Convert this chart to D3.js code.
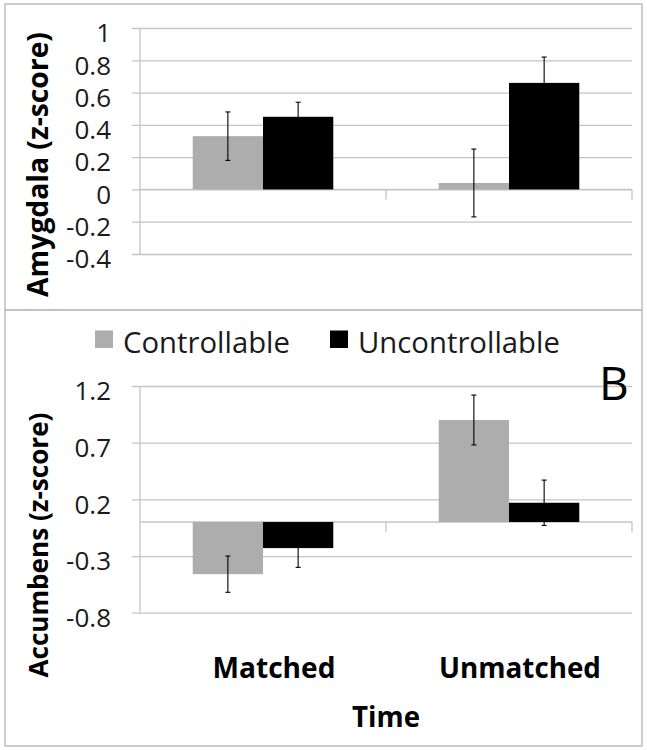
<!DOCTYPE html>
<html>
<head>
<meta charset="utf-8">
<script src="https://cdn.jsdelivr.net/npm/d3@7"></script>
<style>
  html, body { margin: 0; padding: 0; background: #fff; }
  svg { display: block; font-family: "Open Sans", "Liberation Sans", sans-serif; }
</style>
</head>
<body>
<svg id="chart" width="647" height="750"></svg>
<script>
// ---- data ----
const categories = ["Matched", "Unmatched"];
const seriesNames = ["Controllable", "Uncontrollable"];
const seriesColors = ["#adadad", "#000000"];

const amygdalaControllable = [0.33, 0.04];
const amygdalaUncontrollable = [0.45, 0.66];
const amygdalaControllableErr = [0.15, 0.21];
const amygdalaUncontrollableErr = [0.09, 0.16];

const accumbensControllable = [-0.46, 0.90];
const accumbensUncontrollable = [-0.23, 0.17];
const accumbensControllableErr = [0.16, 0.22];
const accumbensUncontrollableErr = [0.17, 0.20];

const amygdalaTicks = [-0.4, -0.2, 0, 0.2, 0.4, 0.6, 0.8, 1];
const accumbensTicks = [-0.8, -0.3, 0.2, 0.7, 1.2];

const yTitles = ["Amygdala (z-score)", "Accumbens (z-score)"];
const xTitle = "Time";
const panelLabel = "B";

// ---- layout ----
const svg = d3.select("#chart");
const left = 140, right = 632, tickLen = 8;
const gridColor = "#c4c4c4";
const textColor = "#1a1a1a";

function fit(sel, target) {
  const base = parseFloat(sel.attr("font-size"));
  const w = sel.node().getComputedTextLength();
  sel.attr("font-size", base * target / w);
  return sel;
}

// panel frames
svg.append("rect").attr("x", 5).attr("y", 4).attr("width", 637).attr("height", 306)
  .attr("fill", "none").attr("stroke", "#bdbdbd").attr("stroke-width", 1.5);
svg.append("rect").attr("x", 5).attr("y", 310).attr("width", 637).attr("height", 436)
  .attr("fill", "none").attr("stroke", "#bdbdbd").attr("stroke-width", 1.5);

const x = d3.scaleBand().domain(categories).range([left, right]);
const xs = d3.scaleBand().domain(seriesNames).range([0, x.bandwidth()]).paddingOuter(0.75);
const color = d3.scaleOrdinal().domain(seriesNames).range(seriesColors);

function panel(cfg) {
  const g = svg.append("g");
  const y = d3.scaleLinear().domain(cfg.domain).range(cfg.range);

  // gridlines
  g.append("g").attr("transform", `translate(${right},0)`)
    .call(d3.axisLeft(y).tickValues(cfg.ticks).tickSize(right - left + tickLen).tickFormat(""))
    .call(a => a.select(".domain").remove())
    .call(a => a.selectAll("line").attr("stroke", gridColor).attr("stroke-width", 1.3));

  // tick labels
  g.append("g").attr("transform", `translate(${left - tickLen},0)`)
    .call(d3.axisLeft(y).tickValues(cfg.ticks).tickSize(0).tickPadding(21)
      .tickFormat(d => String(+d.toFixed(1))))
    .call(a => a.select(".domain").remove())
    .call(a => a.attr("font-size", null).attr("font-family", null))
    .call(a => a.selectAll("text").attr("font-size", 26).attr("fill", textColor)
      .attr("font-family", "'Open Sans', sans-serif").attr("dy", "0.53em"));

  // vertical axis line
  g.append("line").attr("x1", left).attr("x2", left)
    .attr("y1", y(cfg.domain[0])).attr("y2", y(cfg.domain[1]))
    .attr("stroke", gridColor).attr("stroke-width", 1.3);

  // zero (category) axis line + ticks
  g.append("line").attr("x1", left).attr("x2", right).attr("y1", y(0)).attr("y2", y(0))
    .attr("stroke", gridColor).attr("stroke-width", 1.3);
  g.selectAll(".ctick").data(categories).join("line")
    .attr("x1", d => x(d) + x.bandwidth()).attr("x2", d => x(d) + x.bandwidth())
    .attr("y1", y(0)).attr("y2", y(0) + 10)
    .attr("stroke", gridColor).attr("stroke-width", 1.3);

  // bars
  const rows = [];
  categories.forEach((c, i) => {
    seriesNames.forEach((s, j) => {
      rows.push({ c, s, v: cfg.values[j][i], e: cfg.errors[j][i] });
    });
  });
  g.selectAll(".bar").data(rows).join("rect")
    .attr("x", d => x(d.c) + xs(d.s))
    .attr("width", xs.bandwidth())
    .attr("y", d => y(Math.max(0, d.v)))
    .attr("height", d => Math.abs(y(d.v) - y(0)))
    .attr("fill", d => color(d.s));

  // error bars
  const eg = g.selectAll(".err").data(rows).join("g")
    .attr("transform", d => `translate(${x(d.c) + xs(d.s) + xs.bandwidth() / 2},0)`);
  eg.append("line").attr("y1", d => y(d.v + d.e)).attr("y2", d => y(d.v - d.e))
    .attr("stroke", "#000").attr("stroke-width", 1.1);
  eg.append("line").attr("x1", -2.5).attr("x2", 2.5)
    .attr("y1", d => y(d.v + d.e)).attr("y2", d => y(d.v + d.e))
    .attr("stroke", "#000").attr("stroke-width", 1.1);
  eg.append("line").attr("x1", -2.5).attr("x2", 2.5)
    .attr("y1", d => y(d.v - d.e)).attr("y2", d => y(d.v - d.e))
    .attr("stroke", "#000").attr("stroke-width", 1.1);

  // y title
  const t = svg.append("text")
    .attr("transform", `translate(48,${cfg.titleCenter}) rotate(-90)`)
    .attr("text-anchor", "middle").attr("font-weight", "bold")
    .attr("font-size", 26).attr("fill", "#000").text(cfg.title);
  fit(t, 265);
}

panel({
  domain: [-0.4, 1], range: [254, 28], ticks: amygdalaTicks,
  values: [amygdalaControllable, amygdalaUncontrollable],
  errors: [amygdalaControllableErr, amygdalaUncontrollableErr],
  title: yTitles[0], titleCenter: 164.5
});
panel({
  domain: [-0.8, 1.2], range: [612.7, 386], ticks: accumbensTicks,
  values: [accumbensControllable, accumbensUncontrollable],
  errors: [accumbensControllableErr, accumbensUncontrollableErr],
  title: yTitles[1], titleCenter: 545
});

// legend
const legendX = [95, 330];
const legendW = [167, 202];
const lg = svg.selectAll(".leg").data(seriesNames).join("g")
  .attr("transform", (d, i) => `translate(${legendX[i]},0)`);
lg.append("rect").attr("x", 0).attr("y", 330.5).attr("width", 18).attr("height", 17.5)
  .attr("fill", d => color(d));
lg.append("text").attr("x", 28).attr("y", 353).attr("font-size", 29).attr("fill", textColor)
  .text(d => d).each(function (d, i) { fit(d3.select(this), legendW[i]); });

// panel label
svg.append("text").attr("x", 599).attr("y", 400).attr("font-size", 46)
  .attr("fill", "#000").text(panelLabel);

// category labels
const catW = [123, 162];
svg.selectAll(".cat").data(categories).join("text")
  .attr("x", d => x(d) + x.bandwidth() / 2 + 11).attr("y", 678)
  .attr("text-anchor", "middle").attr("font-weight", "bold").attr("font-size", 28)
  .attr("fill", "#000").text(d => d)
  .each(function (d, i) { fit(d3.select(this), catW[i]); });

// x title
const xt = svg.append("text").attr("x", 386).attr("y", 727).attr("text-anchor", "middle")
  .attr("font-weight", "bold").attr("font-size", 28).attr("fill", "#000").text(xTitle);
fit(xt, 68);
</script>
</body>
</html>
